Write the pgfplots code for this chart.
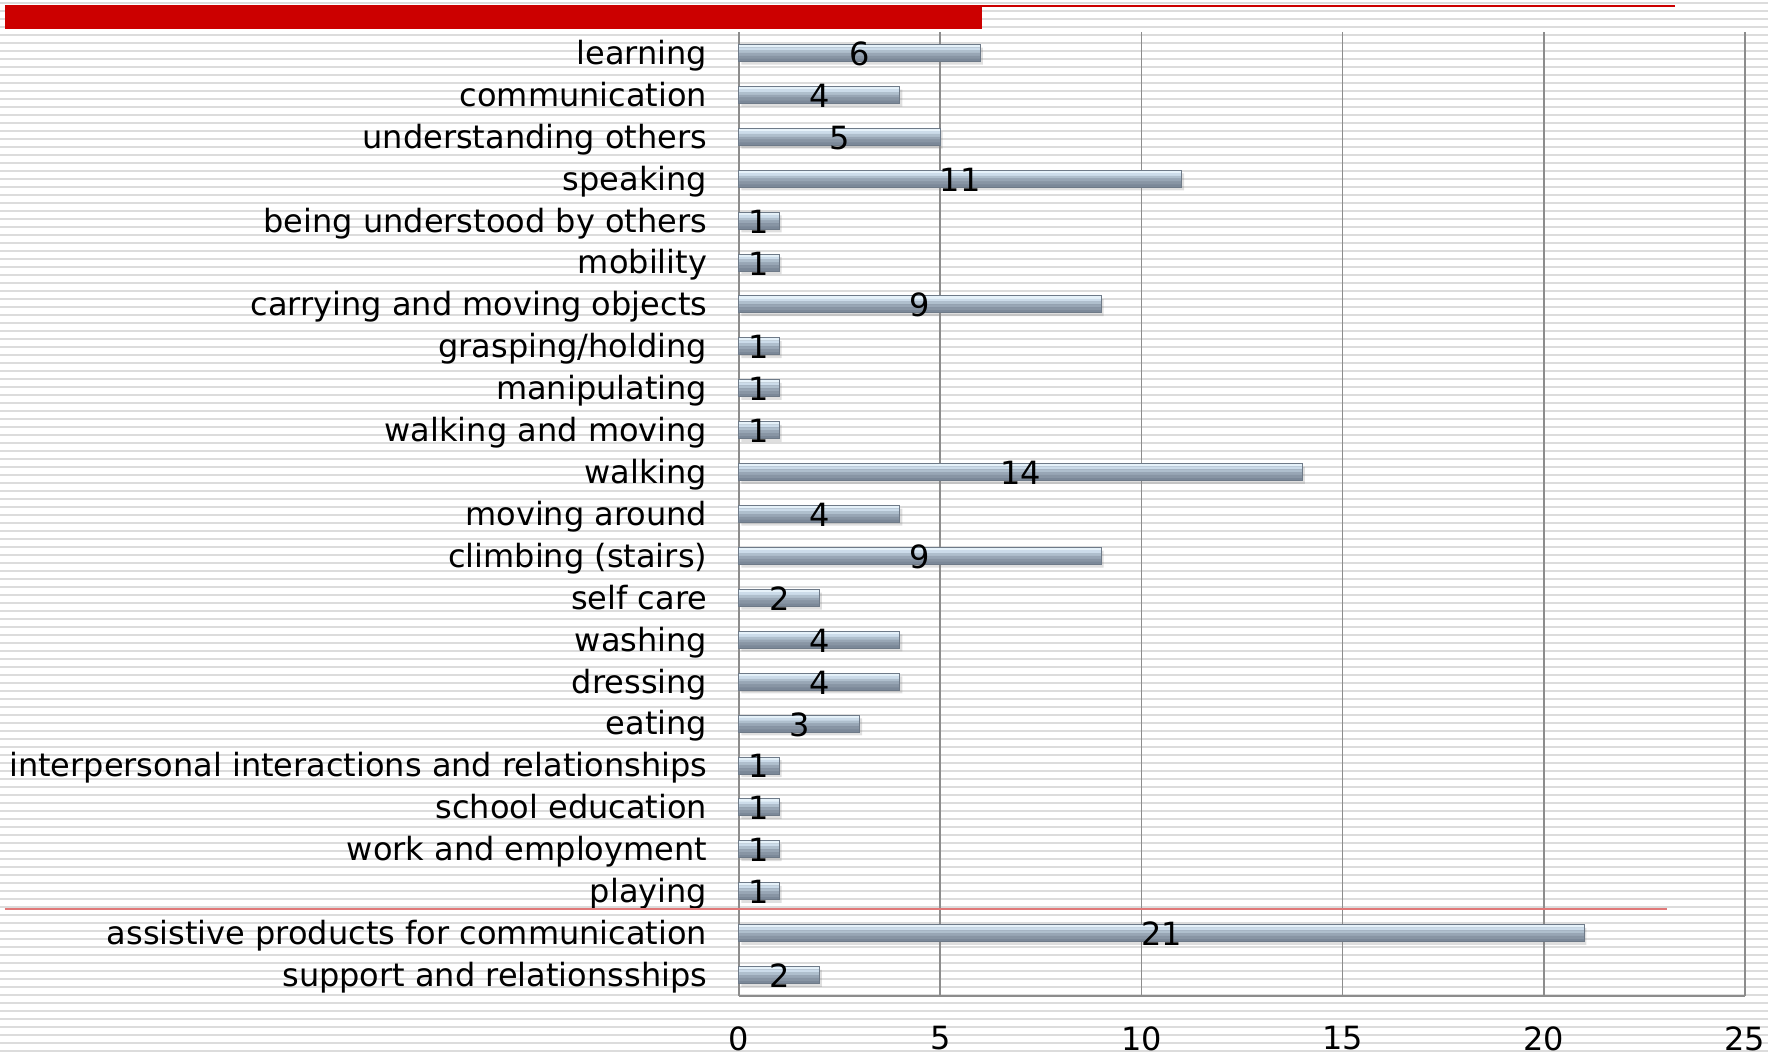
\documentclass[border=0pt]{standalone}
\usepackage{pgfplots}
\pgfplotsset{compat=1.18}
\usepackage{pgfplotstable}
\usepackage{fontspec}
\setmainfont{DejaVu Sans}
\usetikzlibrary{shadows}
\definecolor{stripe}{HTML}{DCDCDC}
\definecolor{redbar}{HTML}{CC0000}
\definecolor{redline}{HTML}{E07878}
\definecolor{gridc}{HTML}{8C8C8C}
\definecolor{bs1}{HTML}{E6F2FA}
\definecolor{bs2}{HTML}{CCDCEA}
\definecolor{bs3}{HTML}{AFBFCD}
\definecolor{bs4}{HTML}{98A6B5}
\definecolor{bs5}{HTML}{8895A4}
\definecolor{bs6}{HTML}{7B8898}
\definecolor{baredge}{HTML}{6E7A88}

\pgfplotstableread{
idx v
0 6
1 4
2 5
3 11
4 1
5 1
6 9
7 1
8 1
9 1
10 14
11 4
12 9
13 2
14 4
15 4
16 3
17 1
18 1
19 1
20 1
21 21
22 2
}\datatable

\begin{document}
\begin{tikzpicture}
\path[use as bounding box] (-184.75pt,-14.5pt) rectangle (257.25pt,249pt);
% striped background
\foreach \k in {0,...,131}{
  \fill[stripe] (-184.75pt,{(996-(2+8*\k))*0.25pt}) rectangle (257.25pt,{(996-(2+8*\k)-2.4)*0.25pt});
}
% red header bar and line
\fill[redbar] (-183.6pt,247.75pt) rectangle (60.75pt,241.75pt);
\draw[redbar, line width=0.5pt] (60.75pt,247.5pt) -- (234pt,247.5pt);
\begin{axis}[
  at={(0,0)}, anchor=south west,
  scale only axis, width=251.5pt, height=241pt,
  xmin=0, xmax=25, ymin=-0.5, ymax=22.5,
  y dir=reverse,
  xtick={0,5,...,25},
  ytick={0,...,22},
  yticklabels={learning, communication, understanding others, speaking, being understood by others, mobility, carrying and moving objects, grasping/holding, manipulating, walking and moving, walking, moving around, climbing (stairs), self care, washing, dressing, eating, interpersonal interactions and relationships, school education, work and employment, playing, assistive products for communication, support and relationsships},
  xmajorgrids,
  grid style={draw=gridc, line width=0.4pt},
  axis x line*=bottom, axis y line*=left,
  axis line style={draw=gridc, line width=0.6pt, -},
  major tick length=0pt,
  tick label style={font=\fontsize{8}{9.6}\selectfont, text=black},
  /pgf/number format/assume math mode=true,
  yticklabel style={inner sep=0pt, anchor=base east, xshift=-7.75pt, yshift=-2.85pt},
  xticklabel style={inner sep=0pt, anchor=north, yshift=-7.4pt},
  clip=false,
  layer/.style={xbar, bar width=0.72pt, draw=none, fill=#1},
]
\addplot[xbar, bar width=4.25pt, bar shift=0pt, fill=bs6, draw=none,
  drop shadow={opacity=0.25, shadow xshift=0.6pt, shadow yshift=-0.8pt}]
  table[x=v, y=idx] {\datatable};
\addplot[layer=bs1, bar shift=1.771pt] table[x=v, y=idx] {\datatable};
\addplot[layer=bs2, bar shift=1.063pt] table[x=v, y=idx] {\datatable};
\addplot[layer=bs3, bar shift=0.354pt] table[x=v, y=idx] {\datatable};
\addplot[layer=bs4, bar shift=-0.354pt] table[x=v, y=idx] {\datatable};
\addplot[layer=bs5, bar shift=-1.063pt] table[x=v, y=idx] {\datatable};
\addplot[xbar, bar width=4.25pt, bar shift=0pt, fill=none, draw=baredge, line width=0.25pt]
  table[x=v, y=idx] {\datatable};
\addplot[draw=none, mark=none, nodes near coords, point meta=explicit,
  nodes near coords style={anchor=center, yshift=-0.2pt, font=\fontsize{8}{9.6}\selectfont, text=black, inner sep=0pt}]
  table[x expr=\thisrow{v}/2, y=idx, meta=v] {\datatable};
\end{axis}
\draw[redline, line width=0.45pt] (-183.6pt,21.75pt) -- (232pt,21.75pt);
\end{tikzpicture}
\end{document}
